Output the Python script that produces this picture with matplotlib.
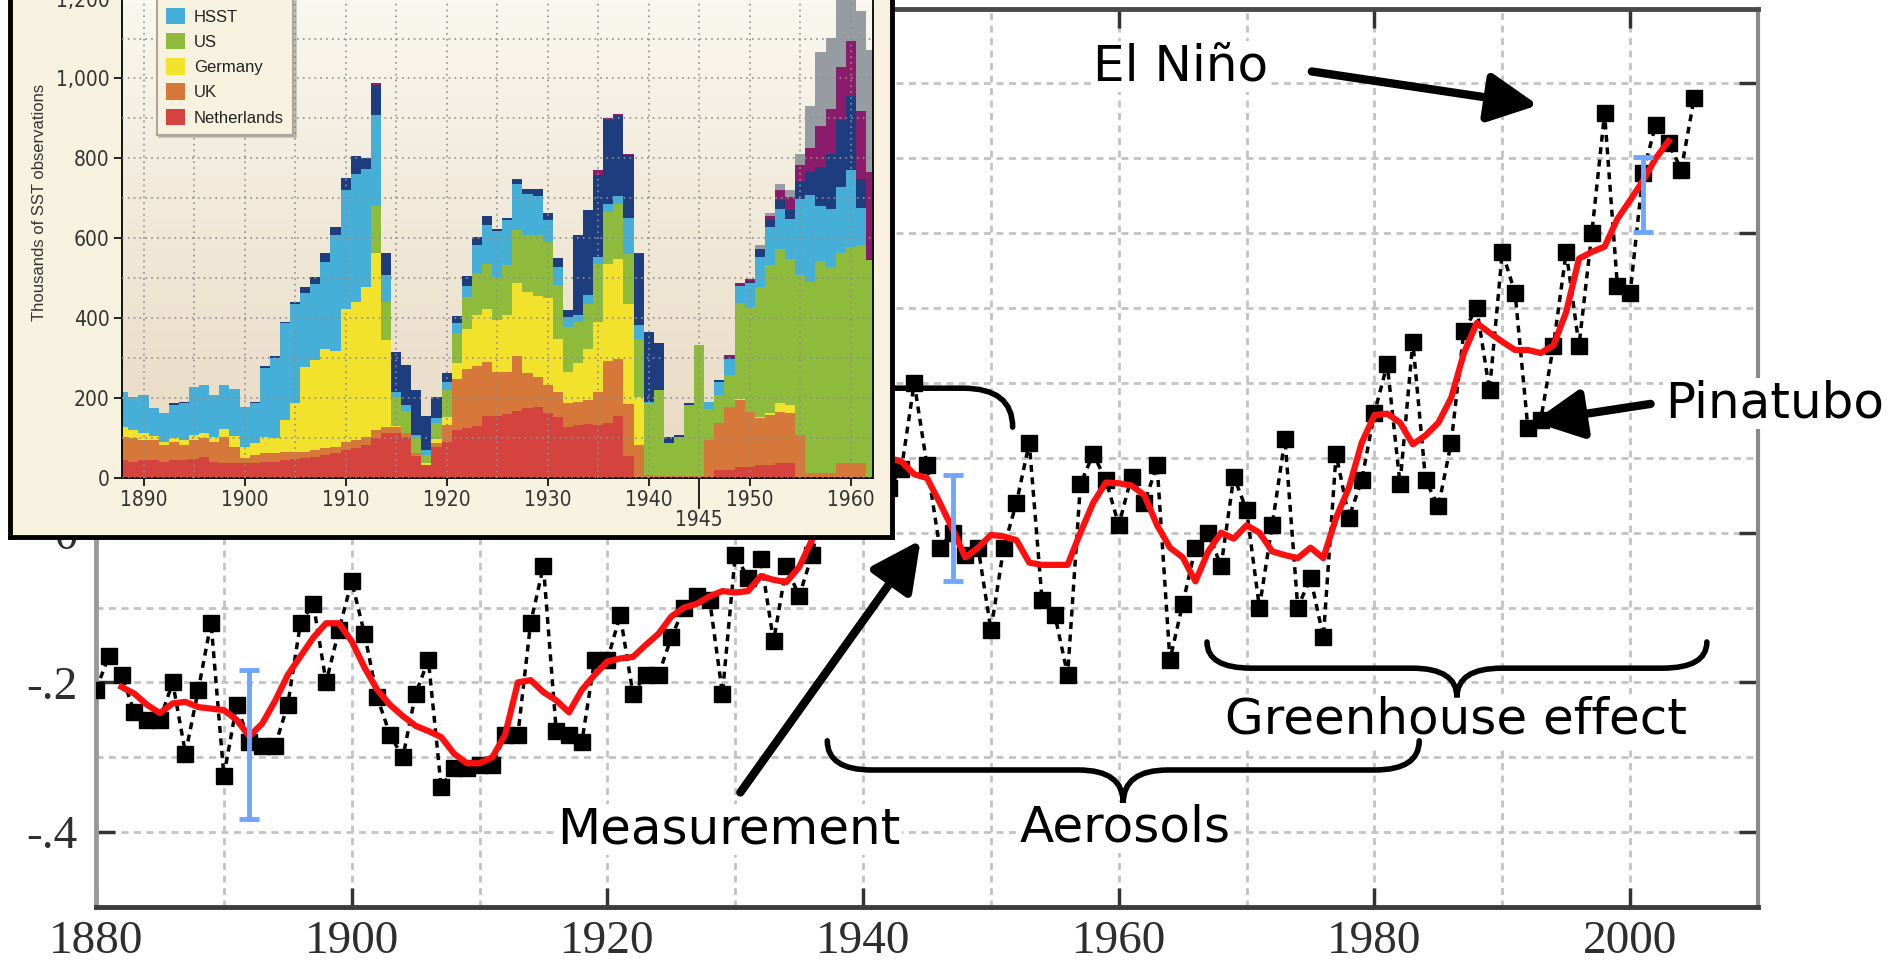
import numpy as np
import matplotlib
matplotlib.use('Agg')
import matplotlib.pyplot as plt
from matplotlib.path import Path
from matplotlib.patches import PathPatch, Patch
from matplotlib.ticker import MultipleLocator, FuncFormatter
from matplotlib.colors import LinearSegmentedColormap
from matplotlib import font_manager as fm

# ---------------- main chart data: global temperature anomaly (deg C) ----------------
years = np.arange(1880, 2006)
anomaly = [
    -0.21, -0.165, -0.19, -0.24, -0.25, -0.25, -0.20, -0.295, -0.21, -0.12,
    -0.325, -0.23, -0.28, -0.285, -0.285, -0.23, -0.12, -0.095, -0.20, -0.13,
    -0.065, -0.135, -0.22, -0.27, -0.30, -0.215, -0.17, -0.34, -0.315, -0.315,
    -0.31, -0.31, -0.27, -0.27, -0.12, -0.045, -0.265, -0.27, -0.28, -0.17,
    -0.17, -0.11, -0.215, -0.19, -0.19, -0.14, -0.10, -0.085, -0.09, -0.215,
    -0.03, -0.06, -0.035, -0.145, -0.045, -0.085, -0.03, 0.05, 0.07, 0.02,
    0.08, 0.12, 0.06, 0.085, 0.20, 0.09, -0.02, 0.00, -0.03, -0.02,
    -0.13, -0.02, 0.04, 0.12, -0.09, -0.11, -0.19, 0.065, 0.105, 0.07,
    0.01, 0.075, 0.04, 0.09, -0.17, -0.095, -0.02, 0.00, -0.045, 0.075,
    0.03, -0.10, 0.01, 0.125, -0.10, -0.06, -0.14, 0.105, 0.02, 0.07,
    0.16, 0.225, 0.065, 0.255, 0.07, 0.035, 0.12, 0.27, 0.30, 0.19,
    0.375, 0.32, 0.14, 0.15, 0.25, 0.375, 0.25, 0.40, 0.56, 0.33,
    0.32, 0.48, 0.545, 0.52, 0.485, 0.58,
]

# red curve (5-year mean) as drawn
mean_years = np.arange(1882, 2004)
mean5 = [
    -0.206, -0.215, -0.23, -0.241, -0.228, -0.226, -0.233, -0.235, -0.237, -0.25,
    -0.272, -0.255, -0.225, -0.19, -0.165, -0.14, -0.121, -0.121, -0.145, -0.18,
    -0.21, -0.23, -0.245, -0.258, -0.265, -0.273, -0.295, -0.308, -0.308, -0.30,
    -0.27, -0.20, -0.197, -0.213, -0.224, -0.24, -0.21, -0.19, -0.172, -0.168,
    -0.166, -0.15, -0.135, -0.112, -0.10, -0.095, -0.085, -0.078, -0.08, -0.078,
    -0.058, -0.063, -0.066, -0.046, -0.01, 0.02, 0.04, 0.06, 0.08, 0.095,
    0.10, 0.095, 0.078, 0.073, 0.04, 0.005, -0.033, -0.02, -0.003, -0.005,
    -0.01, -0.04, -0.043, -0.043, -0.043, 0.0, 0.04, 0.067, 0.066, 0.063,
    0.05, 0.01, -0.02, -0.033, -0.065, -0.025, 0.0, -0.008, 0.01, 0.0,
    -0.025, -0.03, -0.034, -0.02, -0.034, 0.02, 0.06, 0.12, 0.157, 0.159,
    0.147, 0.118, 0.13, 0.147, 0.18, 0.24, 0.28, 0.267, 0.255, 0.244,
    0.244, 0.24, 0.25, 0.295, 0.366, 0.375, 0.382, 0.419, 0.444, 0.47,
    0.50, 0.523,
]

# blue uncertainty bars
err_years = [1892, 1947, 2001]
err_mid = [-0.283, 0.006, 0.452]
err_half = [0.10, 0.071, 0.05]

# ---------------- inset data: thousands of SST observations ----------------
obs_years = np.arange(1888, 1963)
netherlands = [
    45, 41, 45, 45, 41, 45, 45, 47, 53, 41,
    38, 38, 37, 37, 41, 41, 45, 47, 49, 53,
    58, 63, 70, 74, 83, 99, 112, 112, 102, 55,
    33, 78, 91, 120, 124, 130, 155, 155, 160, 168,
    174, 177, 163, 153, 128, 133, 135, 133, 138, 155,
    55, 0, 0, 0, 0, 0, 0, 0, 0, 20,
    20, 28, 28, 33, 33, 37, 37, 0, 0, 0,
    0, 0, 0, 0, 0,
]
uk = [
    58, 58, 50, 50, 42, 46, 38, 48, 46, 50,
    65, 40, 12, 21, 21, 21, 21, 19, 17, 17,
    16, 15, 21, 21, 20, 21, 16, 15, 10, 7,
    0, 9, 42, 129, 150, 150, 136, 111, 106, 137,
    88, 76, 70, 63, 59, 58, 60, 83, 155, 142,
    130, 83, 7, 6, 5, 5, 5, 5, 95, 118,
    158, 167, 138, 116, 124, 129, 126, 108, 12, 12,
    12, 37, 38, 38, 0,
]
germany = [
    25, 21, 17, 10, 8, 8, 12, 13, 14, 12,
    19, 27, 29, 29, 41, 37, 79, 121, 212, 225,
    250, 240, 333, 346, 375, 443, 217, 3, 0, 0,
    4, 10, 20, 39, 100, 129, 131, 129, 141, 182,
    204, 202, 218, 133, 79, 96, 129, 175, 242, 250,
    250, 119, 0, 0, 0, 0, 0, 0, 0, 0,
    0, 2, 0, 4, 6, 21, 20, 0, 0, 0,
    0, 0, 0, 0, 0,
]
us = [
    0, 0, 0, 0, 0, 0, 0, 0, 0, 0,
    0, 0, 0, 0, 0, 0, 0, 0, 0, 0,
    0, 0, 0, 0, 0, 117, 96, 73, 56, 40,
    20, 41, 67, 74, 79, 101, 113, 108, 125, 133,
    142, 153, 140, 134, 112, 104, 111, 144, 131, 138,
    125, 145, 180, 214, 82, 98, 177, 328, 77, 70,
    80, 241, 262, 325, 369, 387, 364, 400, 479, 531,
    516, 525, 540, 544, 545,
]
hsst = [
    88, 83, 96, 69, 72, 84, 92, 120, 119, 105,
    110, 119, 100, 101, 173, 202, 242, 248, 184, 191,
    217, 289, 298, 321, 296, 228, 67, 13, 15, 6,
    13, 11, 21, 25, 27, 74, 97, 115, 113, 115,
    104, 97, 54, 45, 25, 16, 23, 17, 19, 20,
    92, 36, 4, 0, 0, 0, 0, 0, 19, 33,
    41, 42, 59, 75, 96, 100, 102, 191, 217, 137,
    146, 166, 192, 95, 0,
]
# the top legend entries (navy, purple, grey sources) are cropped off the picture
navy_obs = [
    0, 0, 0, 0, 0, 4, 4, 0, 0, 0,
    0, 0, 0, 3, 4, 4, 4, 6, 16, 17,
    22, 21, 30, 44, 28, 75, 55, 100, 100, 112,
    85, 54, 22, 18, 25, 19, 23, 6, 7, 10,
    12, 19, 18, 23, 17, 202, 214, 206, 212, 200,
    157, 177, 175, 117, 16, 5, 5, 0, 0, 4,
    5, 4, 6, 21, 18, 23, 23, 42, 58, 98,
    136, 167, 185, 72, 4,
]
purple_obs = [
    0, 0, 0, 0, 0, 0, 0, 0, 0, 0,
    0, 0, 0, 0, 0, 0, 0, 0, 0, 0,
    0, 0, 0, 0, 0, 5, 0, 0, 0, 0,
    0, 0, 0, 0, 0, 0, 0, 0, 0, 4,
    0, 0, 0, 0, 0, 0, 0, 12, 5, 5,
    3, 3, 0, 0, 0, 0, 0, 0, 0, 0,
    4, 4, 6, 0, 9, 25, 31, 42, 61, 104,
    114, 133, 138, 169, 217,
]
grey_obs = [
    0, 0, 0, 0, 0, 0, 0, 0, 0, 0,
    0, 0, 0, 0, 0, 0, 0, 0, 0, 0,
    0, 0, 0, 0, 0, 0, 0, 0, 0, 0,
    0, 0, 0, 0, 0, 0, 0, 0, 0, 0,
    0, 0, 0, 0, 0, 0, 0, 0, 0, 0,
    0, 0, 0, 0, 0, 0, 0, 0, 0, 0,
    0, 0, 0, 9, 8, 15, 17, 27, 103, 184,
    178, 232, 147, 252, 306,
]

inset_xticks = [1890, 1900, 1910, 1920, 1930, 1940, 1950, 1960]
inset_yticks = [0, 200, 400, 600, 800, 1000, 1200]

# fonts: look for a condensed sans for the inset ticks
hand = 'DejaVu Sans'
cond = None
for f in fm.fontManager.ttflist:
    if f.style != 'normal' or f.weight not in (400, 'normal', 'regular'):
        continue
    if 'Narrow' in f.name or 'Condensed' in f.name or f.stretch in ('condensed', 'semi-condensed'):
        cond = f.fname
        break
if cond:
    tick_fp = fm.FontProperties(fname=cond, size=15)
else:
    tick_fp = fm.FontProperties(family='Liberation Sans', size=14)

fig = plt.figure(figsize=(18.92, 9.6), dpi=100)
fig.patch.set_facecolor('white')

# ---------------- main axes ----------------
ax = fig.add_axes([96 / 1892, 53 / 960, 1662 / 1892, 898.4 / 960], zorder=1)
ax.set_xlim(1880, 2010)
ax.set_ylim(-0.5, 0.7)
ax.xaxis.set_major_locator(MultipleLocator(20))
ax.xaxis.set_minor_locator(MultipleLocator(10))
ax.yaxis.set_major_locator(MultipleLocator(0.2))
ax.yaxis.set_minor_locator(MultipleLocator(0.1))


def ylab(v, pos):
    # labels above zero sit behind the inset
    if abs(v) < 1e-9:
        return '0'
    if v > 0:
        return ''
    return f'{v:.1f}'.replace('0.', '.')


ax.yaxis.set_major_formatter(FuncFormatter(ylab))
ax.set_axisbelow(True)
ax.grid(which='both', color='#c3c3c3', lw=2, ls=(0, (2.5, 2)))
ax.tick_params(which='major', direction='in', length=14, width=2.5, color='#333333',
               top=True, right=True, labelsize=34, labelcolor='#2e2e2e',
               labelfontfamily='Liberation Serif')
ax.tick_params(axis='x', which='major', pad=10)
ax.tick_params(axis='y', which='major', pad=13)
ax.tick_params(which='minor', length=0)
ax.spines['left'].set(color='#9a9a9a', lw=3.5)
ax.spines['right'].set(color='#8a8a8a', lw=3)
ax.spines['bottom'].set(color='#3c3c3c', lw=3.5)
ax.spines['top'].set(color='#4a4a4a', lw=3.5)

# annual values, running mean, error bars
ax.plot(years, anomaly, color='black', lw=2.5, ls=(0, (2, 1.6)), marker='s', ms=11,
        mfc='black', mec='black', zorder=3)
ax.plot(mean_years, mean5, color='#ff1010', lw=4.5, zorder=4)
ax.errorbar(err_years, err_mid, yerr=err_half, fmt='none', ecolor='#6fa6ff',
            elinewidth=3.5, capsize=7, capthick=3.5, zorder=5)

# annotations
text_kw = dict(family=hand, fontsize=36, color='black', zorder=6,
               bbox=dict(facecolor='white', edgecolor='none', pad=1))
arrow_kw = dict(arrowstyle='-|>,head_length=0.5,head_width=0.25', mutation_scale=60,
                lw=6, color='black', shrinkA=0, shrinkB=0)

ax.text(1964.8, 0.623, 'El Niño', ha='center', va='center', **text_kw)
ax.annotate('', xy=(1992.8, 0.571), xytext=(1975.1, 0.616), arrowprops=arrow_kw, zorder=7)

ax.text(2002.7, 0.172, 'Pinatubo', ha='left', va='center', **text_kw)
ax.annotate('', xy=(1992.4, 0.148), xytext=(2001.6, 0.172), arrowprops=arrow_kw, zorder=7)

ax.text(1929.5, -0.397, 'Measurement', ha='center', va='center', **text_kw)
ax.annotate('', xy=(1944.5, -0.01), xytext=(1930.4, -0.347), arrowprops=arrow_kw, zorder=7)

ax.text(1960.5, -0.394, 'Aerosols', ha='center', va='center', **text_kw)
ax.text(1986.4, -0.25, 'Greenhouse effect', ha='center', va='center', **text_kw)


def brace(ax, x0, x1, y_end, y_mid, y_tip, r):
    xc = (x0 + x1) / 2
    verts = [(x0, y_end), (x0, y_mid), (x0 + r, y_mid),
             (xc - r, y_mid), (xc, y_mid), (xc, y_tip),
             (xc, y_mid), (xc + r, y_mid),
             (x1 - r, y_mid), (x1, y_mid), (x1, y_end)]
    codes = [Path.MOVETO, Path.CURVE3, Path.CURVE3, Path.LINETO, Path.CURVE3, Path.CURVE3,
             Path.CURVE3, Path.CURVE3, Path.LINETO, Path.CURVE3, Path.CURVE3]
    ax.add_patch(PathPatch(Path(verts, codes), fill=False, lw=4, color='black',
                           capstyle='round', zorder=7, clip_on=False))


brace(ax, 1937.2, 1983.5, -0.278, -0.317, -0.361, 3.5)
brace(ax, 1966.9, 2006.0, -0.146, -0.181, -0.220, 3.5)

# right end of a brace that runs behind the inset
part = Path([(1925, 0.193), (1947.8, 0.193), (1951.7, 0.193), (1951.7, 0.141)],
            [Path.MOVETO, Path.LINETO, Path.CURVE3, Path.CURVE3])
ax.add_patch(PathPatch(part, fill=False, lw=4, color='black', capstyle='round', zorder=7))

# ---------------- inset: panel + stacked bars ----------------
panel = fig.add_axes([10 / 1892, 423 / 960, 882 / 1892, 0.6], zorder=5)
panel.set_facecolor('#f6f2df')
panel.set_xticks([])
panel.set_yticks([])
for s in panel.spines.values():
    s.set(lw=3.5, color='black')

ax_in = fig.add_axes([122 / 1892, 482 / 960, 751 / 1892, 519.4 / 960], zorder=6)
ax_in.patch.set_alpha(0)
bg = LinearSegmentedColormap.from_list('bg', ['#e8d9c2', '#f1e9d9', '#fbfaf4'])
ax_in.imshow(np.linspace(0, 1, 256).reshape(-1, 1), extent=[0, 1, 0, 1],
             transform=ax_in.transAxes, origin='lower', cmap=bg, aspect='auto', zorder=0)

layers = [netherlands, uk, germany, us, hsst, navy_obs, purple_obs, grey_obs]
colors = ['#d5433f', '#d6783a', '#f3e22b', '#8ebb3b', '#45afd7', '#1e3d7f', '#8a1c6b', '#969ca2']
bottom = np.zeros(len(obs_years))
for vals, c in zip(layers, colors):
    vals = np.array(vals, dtype=float)
    ax_in.bar(obs_years, vals, bottom=bottom, width=1.0, color=c, linewidth=0, zorder=2)
    bottom += vals

ax_in.set_xlim(1887.87, 1962.2)
ax_in.set_ylim(0, 1300)
ax_in.set_xticks(inset_xticks, [str(y) for y in inset_xticks],
                 fontproperties=tick_fp, color='#333333')
ax_in.set_yticks(inset_yticks, [f'{v:,}' for v in inset_yticks],
                 fontproperties=tick_fp, color='#333333')
ax_in.xaxis.set_minor_locator(MultipleLocator(5))
ax_in.yaxis.set_minor_locator(MultipleLocator(100))
ax_in.set_axisbelow(False)
ax_in.grid(which='both', color='#8f8f8f', lw=1.2, ls=(0, (1, 2.5)))
ax_in.tick_params(which='major', direction='out', length=6, width=1.2, color='black', pad=3)
ax_in.tick_params(which='minor', length=0)
for side in ['left', 'bottom', 'right']:
    ax_in.spines[side].set(color='black', lw=1.3)
ax_in.spines['top'].set_visible(False)

# 1945 marker below the axis
ax_in.plot([1945, 1945], [0, -75], color='black', lw=1.2, clip_on=False)
ax_in.text(1945, -105, '1945', ha='center', va='center',
           fontproperties=tick_fp, color='#333333')

ax_in.text(-0.11, 0.531, 'Thousands of SST observations', transform=ax_in.transAxes,
           rotation=90, ha='center', va='center', fontsize=12,
           family='Liberation Sans', color='#333333')

handles = [Patch(facecolor=c, edgecolor='none') for c in
           ['#45afd7', '#8ebb3b', '#f3e22b', '#d6783a', '#d5433f']]
labels = ['HSST', 'US', 'Germany', 'UK', 'Netherlands']
leg = ax_in.legend(handles, labels, loc='lower left', bbox_to_anchor=(0.046, 0.661),
                   borderaxespad=0, handlelength=1.15, handleheight=1.15,
                   handletextpad=0.55, labelspacing=0.5, borderpad=0.55,
                   fancybox=False, shadow=dict(color='0.5', alpha=0.35),
                   prop={'family': 'Liberation Sans', 'size': 12},
                   facecolor='#f6f2df', edgecolor='#b0a494', framealpha=1)
leg.get_frame().set_linewidth(1.5)
for t in leg.get_texts():
    t.set_color('#222222')

fig.savefig('out.png', dpi=100)
